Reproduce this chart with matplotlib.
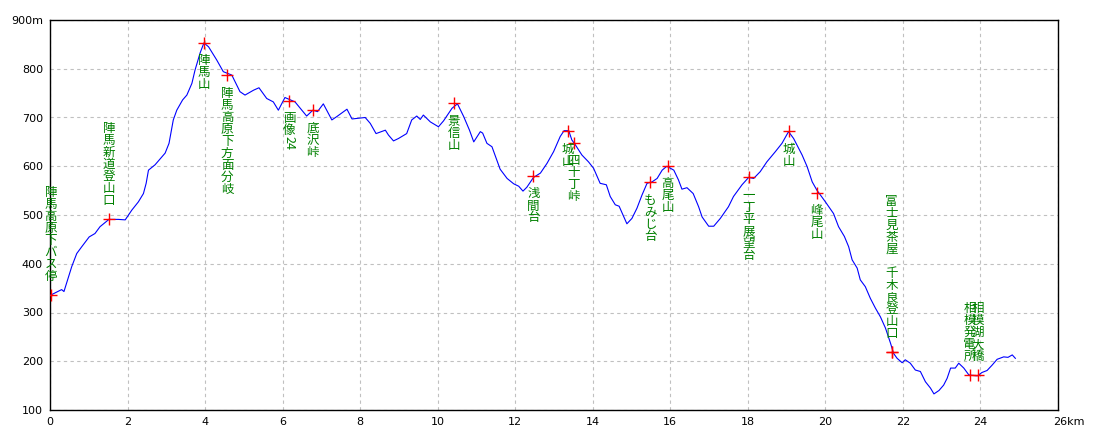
import matplotlib
matplotlib.use('Agg')
import matplotlib.pyplot as plt
import matplotlib.transforms as mtransforms

# elevation profile (km, m)
dist_km = [0.00, 0.30, 0.36, 0.56, 0.69, 0.82, 1.01, 1.16, 1.29, 1.52, 1.76, 1.94,
           2.11, 2.28, 2.41, 2.48, 2.54, 2.71, 2.97, 3.07, 3.18, 3.27, 3.42, 3.53,
           3.66, 3.74, 3.87, 3.97, 4.09, 4.30, 4.47, 4.69, 4.90, 5.03, 5.25, 5.39,
           5.59, 5.76, 5.89, 6.06, 6.32, 6.62, 6.78, 6.90, 7.05, 7.27, 7.40, 7.66,
           7.79, 8.13, 8.26, 8.41, 8.65, 8.73, 8.86, 8.99, 9.20, 9.33, 9.46, 9.55,
           9.63, 9.81, 10.02, 10.15, 10.37, 10.51, 10.67, 10.82, 10.93, 11.10, 11.16,
           11.27, 11.40, 11.61, 11.79, 11.96, 12.09, 12.20, 12.30, 12.47, 12.65, 12.82,
           12.99, 13.16, 13.26, 13.38, 13.46, 13.55, 13.72, 13.89, 14.02, 14.19, 14.35,
           14.45, 14.58, 14.68, 14.78, 14.88, 15.01, 15.14, 15.27, 15.40, 15.53, 15.66,
           15.79, 15.91, 16.09, 16.21, 16.30, 16.43, 16.59, 16.73, 16.82, 16.99, 17.12,
           17.29, 17.50, 17.63, 17.85, 18.02, 18.15, 18.32, 18.49, 18.71, 18.88, 19.05,
           19.18, 19.40, 19.53, 19.66, 19.78, 20.00, 20.21, 20.34, 20.49, 20.60, 20.69,
           20.82, 20.90, 21.03, 21.16, 21.29, 21.42, 21.55, 21.68, 21.76, 21.85, 21.98,
           22.06, 22.19, 22.32, 22.45, 22.58, 22.71, 22.80, 22.93, 23.05, 23.14, 23.23,
           23.35, 23.44, 23.57, 23.70, 23.92, 24.04, 24.17, 24.30, 24.43, 24.60, 24.71,
           24.82, 24.90]
elev_m = [335, 347, 343, 394, 421, 435, 455, 462, 476, 491, 491, 490,
          510, 527, 544, 565, 592, 603, 627, 647, 695, 715, 736, 746,
          770, 797, 832, 853, 845, 818, 794, 787, 753, 746, 756, 761,
          739, 732, 715, 741, 732, 703, 715, 712, 728, 695, 702, 717,
          697, 700, 688, 667, 674, 664, 652, 657, 667, 695, 703, 696,
          705, 691, 681, 693, 719, 728, 702, 674, 650, 671, 668,
          647, 640, 594, 575, 564, 559, 549, 557, 577, 586, 606,
          630, 661, 673, 673, 654, 644, 623, 609, 596, 565, 562,
          538, 521, 518, 500, 482, 493, 514, 541, 565, 568, 575,
          592, 600, 592, 572, 553, 556, 544, 517, 496, 477, 477,
          493, 517, 538, 562, 577, 575, 589, 609, 630, 647, 671,
          657, 623, 599, 568, 551, 527, 503, 476, 456, 435, 408,
          391, 367, 353, 329, 309, 291, 268, 237, 216, 206, 197,
          203, 196, 182, 179, 158, 145, 133, 140, 151, 165, 186,
          186, 196, 186, 172, 170, 177, 181, 192, 204, 209, 208,
          213, 206]

# waypoints
wp_names = ['陣馬高原下バス停', '陣馬新道登山口', '陣馬山', '陣馬高原下方面分岐', '画像24',
            '底沢峠', '景信山', '浅間台', '城山', '四十丁峠', 'もみじ台', '高尾山',
            '一丁平展望台', '城山', '峰尾山', '富士見茶屋', '千木良登山口',
            '相模発電所', '相模湖大橋']
wp_km = [0.02, 1.52, 3.97, 4.57, 6.17, 6.78, 10.41, 12.47, 13.36, 13.51, 15.48, 15.94,
         18.02, 19.05, 19.78, 21.71, 21.71, 23.72, 23.93]
wp_elev = [335, 491, 853, 787, 734, 715, 729, 580, 672, 648, 567, 601,
           577, 672, 546, 218, 218, 171, 171]
wp_above = [True, True, False, False, False, False, False, False, False, False, False,
            False, False, False, False, True, True, True, True]

x_ticks = list(range(0, 27, 2))
x_labels = [str(v) for v in x_ticks[:-1]] + ['26km']
y_ticks = list(range(100, 901, 100))
y_labels = [str(v) for v in y_ticks[:-1]] + ['900m']

GREEN = '#008000'
ROW = 12  # px per character row

fig = plt.figure(figsize=(11, 4.4), dpi=100)
ax = fig.add_axes([50 / 1100, 30 / 440, 1008 / 1100, 390 / 440])
ax.set_xlim(0, 26)
ax.set_ylim(100, 900)

ax.plot(dist_km, elev_m, color='#0000ff', lw=0.8, zorder=3)
ax.plot(wp_km, wp_elev, ls='none', marker='+', ms=9, mew=1.0, color='#ff0000', zorder=4)


def vertical_label(name, x, y, above, skip_rows=0):
    # stack characters top-to-bottom; ascii is turned sideways and takes half a row
    steps = [(ch, ROW / 2 if ch.isascii() else ROW) for ch in name]
    total = sum(s for _, s in steps)
    if above:
        top = 13 + skip_rows * ROW + total
    else:
        top = -12
    pos = top
    for ch, step in steps:
        cy = pos - step / 2
        ax.annotate(ch, (x, y), xytext=(0, cy), textcoords='offset pixels',
                    ha='center', va='center', fontsize=9, color=GREEN,
                    rotation=-90 if ch.isascii() else 0,
                    family=['Noto Sans CJK JP', 'DejaVu Sans'], zorder=5)
        pos -= step
    return len(name)


# labels above a marker that share the spot stack upward with a blank row between
used = {}
for i in reversed(range(len(wp_names))):
    key = (wp_km[i], wp_elev[i])
    if wp_above[i]:
        skip = used.get(key, 0)
        n = vertical_label(wp_names[i], wp_km[i], wp_elev[i], True, skip)
        used[key] = skip + n + 1
    else:
        vertical_label(wp_names[i], wp_km[i], wp_elev[i], False)

ax.set_xticks(x_ticks)
ax.set_xticklabels(x_labels)
ax.set_yticks(y_ticks)
ax.set_yticklabels(y_labels)
ax.tick_params(length=0, labelsize=8, pad=5)
ax.grid(True, color='#c0c0c0', ls=(0, (3, 3)), lw=0.8)
for sp in ax.spines.values():
    sp.set_color('black')
    sp.set_linewidth(1.0)

# "26km" reads from the tick, not centred on it
last = ax.get_xticklabels()[-1]
last.set_horizontalalignment('left')
last.set_transform(last.get_transform() + mtransforms.ScaledTranslation(-5 / 100, 0, fig.dpi_scale_trans))

fig.savefig('out.png', dpi=100)
